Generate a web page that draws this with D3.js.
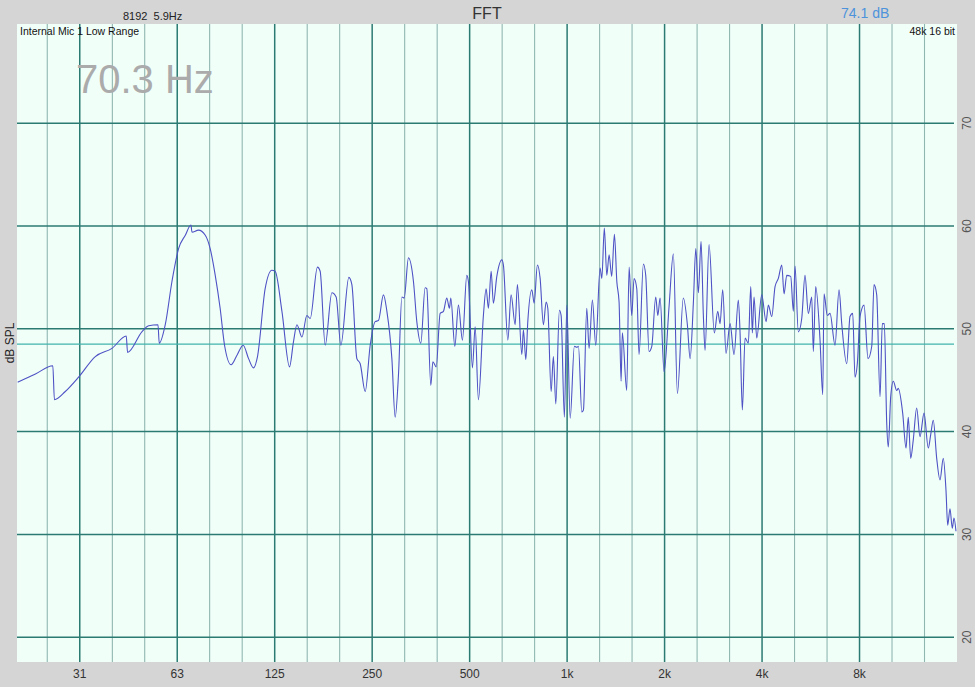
<!DOCTYPE html>
<html><head><meta charset="utf-8">
<script src="https://cdn.jsdelivr.net/npm/d3@7"></script>
<style>
html,body{margin:0;padding:0;background:#d5d5d5;}
svg{display:block;font-family:"Liberation Sans",Arial,Helvetica,sans-serif;}
</style></head>
<body>
<svg id="c" width="975" height="687"></svg>
<script>
// ---- data ----
const freqs = [20.1, 22.8, 25.8, 26.1, 28.2, 31.0, 34.9, 39.3, 43.5, 43.9, 48.6,
 51.0, 54.5, 55.0, 57.4, 60.2, 63.1, 66.2, 68.9, 69.4, 72.7,
 76.3, 79.0, 81.9, 84.8, 87.5, 91.7, 95.5, 99.9, 103.8, 107.5,
 110.6, 116.8, 122.5, 125.4, 131.6, 138.9, 142.8, 146.4, 151.7, 157.1,
 160.9, 169.4, 172.7, 179.0, 187.7, 193.5, 200.1, 211.8, 216.4, 224.2,
 229.6, 237.9, 246.5, 255.4, 261.4, 270.9, 277.6, 287.6, 294.4, 301.4,
 308.8, 313.9, 323.6, 335.3, 343.4, 353.3, 364.3, 368.7, 379.3, 384.9,
 394.2, 405.4, 415.0, 425.0, 433.1, 437.3, 450.0, 461.7, 475.0, 489.9,
 495.7, 510.0, 520.0, 532.2, 551.4, 562.2, 571.4, 582.6, 592.0, 606.6,
 628.6, 635.7, 655.9, 671.5, 690.9, 702.3, 724.6, 732.8, 745.5, 756.1,
 778.0, 791.1, 809.6, 825.4, 844.8, 861.3, 871.7, 892.5, 907.0, 922.8,
 946.7, 958.2, 980.9, 998, 1022, 1053, 1071, 1084, 1110, 1123,
 1150, 1169, 1197, 1226, 1264, 1280, 1303, 1326, 1348, 1373,
 1400, 1424, 1447, 1468, 1481, 1528, 1554, 1583, 1610, 1641,
 1668, 1720, 1749, 1791, 1826, 1878, 1906, 1937, 1993, 2065,
 2129, 2191, 2285, 2352, 2398, 2454, 2497, 2543, 2592, 2635,
 2667, 2744, 2849, 2919, 2967, 3024, 3096, 3186, 3278, 3379,
 3421, 3477, 3545, 3628, 3691, 3733, 3778, 3852, 3991, 4116,
 4183, 4286, 4387, 4491, 4602, 4677, 4768, 4904, 4997, 5057,
 5177, 5304, 5429, 5559, 5695, 5760, 5858, 6041, 6158, 6215,
 6363, 6486, 6721, 6915, 7049, 7304, 7476, 7622, 7747, 7875,
 8029, 8261, 8498, 8726, 8868, 9040, 9256, 9407, 9543, 9707,
 9816, 9986, 10171, 10420, 10538, 10874, 11134, 11315, 11512, 11724,
 12012, 12298, 12658, 13043, 13272, 13516, 13849, 14178, 14512, 14795,
 14974, 15222, 15473, 15660, 15885];

const splDb = [44.8, 45.6, 46.4, 43.1, 43.9, 45.3, 47.3, 48.1, 49.3, 47.7, 49.7,
 50.3, 50.4, 48.6, 50.4, 54.6, 57.8, 59.1, 60.1, 59.4, 59.6,
 59.1, 57.8, 55.2, 52.0, 48.4, 46.5, 47.4, 48.4, 47.1, 46.2,
 47.3, 53.9, 55.7, 55.6, 51.7, 46.3, 48.7, 50.4, 49.2, 51.3,
 51.0, 56.0, 55.6, 48.4, 53.5, 53.1, 48.4, 55.0, 54.3, 47.1,
 46.6, 43.9, 48.4, 50.7, 50.8, 53.3, 51.7, 47.1, 41.4, 45.5,
 53.1, 53.0, 56.9, 54.6, 50.7, 48.6, 54.0, 53.9, 44.5, 46.8,
 46.3, 51.5, 51.7, 53.0, 52.0, 53.0, 48.3, 52.3, 48.9, 55.2,
 54.6, 46.2, 50.2, 43.1, 51.3, 53.9, 52.0, 55.6, 52.5, 55.1,
 56.7, 56.2, 48.9, 53.3, 50.4, 54.3, 47.5, 49.9, 47.0, 50.7,
 53.8, 52.5, 56.2, 54.9, 50.4, 52.6, 52.0, 43.9, 47.3, 42.7,
 51.8, 51.3, 41.4, 52.3, 41.3, 48.3, 48.2, 48.3, 41.9, 42.1,
 52.0, 48.1, 52.8, 48.4, 55.9, 54.9, 59.8, 55.2, 57.2, 55.1,
 59.2, 54.6, 52.6, 44.9, 49.6, 44.0, 56.0, 51.3, 54.9, 53.9,
 47.5, 56.3, 55.2, 47.8, 48.3, 53.1, 51.3, 53.0, 45.8, 52.2,
 57.3, 43.7, 53.0, 50.4, 47.1, 52.5, 57.8, 53.5, 58.5, 51.3,
 47.9, 58.2, 49.6, 51.7, 50.5, 53.8, 47.6, 50.5, 47.5, 52.8,
 49.6, 42.1, 49.1, 48.6, 54.1, 49.6, 53.1, 49.1, 53.3, 50.7,
 52.3, 51.2, 54.1, 54.9, 56.2, 53.4, 55.2, 55.1, 51.7, 56.1,
 49.7, 51.0, 55.2, 51.5, 53.1, 47.8, 54.1, 48.9, 43.6, 53.4,
 51.3, 51.5, 48.4, 53.8, 50.5, 46.6, 51.2, 51.5, 45.3, 46.6,
 51.2, 52.3, 47.1, 48.3, 54.3, 53.3, 43.4, 50.5, 50.5, 40.8,
 38.5, 43.4, 44.9, 44.0, 44.2, 41.8, 38.4, 41.4, 37.4, 39.2,
 42.3, 39.5, 41.8, 38.4, 39.7, 41.1, 37.4, 35.3, 37.4, 34.3,
 30.9, 32.5, 30.6, 31.6, 30.3];

const octaveFreqs = [31.25, 62.5, 125, 250, 500, 1000, 2000, 4000, 8000];
const octaveLabels = ["31", "63", "125", "250", "500", "1k", "2k", "4k", "8k"];
const thirdOctaveFreqs = [24.8, 39.4, 49.6, 78.7, 99.2, 157.5, 198.4, 315, 396.9,
  630, 793.7, 1260, 1587, 2520, 3175, 5040, 6350, 10079, 12699];
const dbTicks = [20, 30, 40, 50, 60, 70];
const cursorDb = 48.5;
const titleText = "FFT";
const fftInfo = "8192  5.9Hz";
const levelText = "74.1 dB";
const inputText = "Internal Mic 1 Low Range";
const formatText = "48k 16 bit";
const cursorFreqText = "70.3 Hz";
const yTitle = "dB SPL";

// ---- layout ----
const W = 975, H = 687;
const plot = {left: 17, right: 957, top: 24, bottom: 662};
const svg = d3.select("#c");

const x = d3.scaleLog().domain([20, 16000]).range([plot.left, plot.right]);
const y = d3.scaleLinear().domain([20, 70]).range([637.2, 123.2]);

svg.append("rect").attr("width", W).attr("height", H).attr("fill", "#d5d5d5");
svg.append("rect").attr("x", plot.left).attr("y", plot.top)
  .attr("width", plot.right - plot.left).attr("height", plot.bottom - plot.top)
  .attr("fill", "#f1fff9");

svg.append("clipPath").attr("id", "clip").append("rect")
  .attr("x", plot.left).attr("y", plot.top)
  .attr("width", plot.right - plot.left).attr("height", plot.bottom - plot.top);

const grid = svg.append("g");
// third-octave verticals
grid.selectAll("line.t").data(thirdOctaveFreqs).join("line")
  .attr("x1", d => x(d)).attr("x2", d => x(d))
  .attr("y1", plot.top).attr("y2", plot.bottom)
  .attr("stroke", "#8fb7b0").attr("stroke-width", 1.1);
// octave verticals
grid.selectAll("line.o").data(octaveFreqs).join("line")
  .attr("x1", d => x(d)).attr("x2", d => x(d))
  .attr("y1", plot.top).attr("y2", plot.bottom)
  .attr("stroke", "#2b7b73").attr("stroke-width", 1.5);
// horizontals
grid.selectAll("line.h").data(dbTicks).join("line")
  .attr("x1", plot.left).attr("x2", plot.right - 3)
  .attr("y1", d => y(d)).attr("y2", d => y(d))
  .attr("stroke", "#2b7b73").attr("stroke-width", 1.5);
// cursor level line
grid.append("line")
  .attr("x1", plot.left).attr("x2", plot.right - 3)
  .attr("y1", y(cursorDb)).attr("y2", y(cursorDb))
  .attr("stroke", "#41b3ab").attr("stroke-width", 1.2);

// curve
const pts = freqs.map((f, i) => [f, splDb[i]]);
svg.append("path").datum(pts)
  .attr("clip-path", "url(#clip)")
  .attr("fill", "none").attr("stroke", "#4e52c4").attr("stroke-width", 1.1)
  .attr("stroke-linejoin", "round")
  .attr("d", d3.line().curve(d3.curveMonotoneX).x(d => x(d[0])).y(d => y(d[1])));

// bottom axis labels
svg.append("g").selectAll("text").data(octaveFreqs).join("text")
  .attr("x", (d) => x(d)).attr("y", 678)
  .attr("text-anchor", "middle").attr("font-size", 12).attr("fill", "#333")
  .text((d, i) => octaveLabels[i]);

// right axis labels
svg.append("g").selectAll("text").data(dbTicks).join("text")
  .attr("transform", d => `translate(966.5,${y(d)}) rotate(-90)`)
  .attr("text-anchor", "middle").attr("dominant-baseline", "central")
  .attr("font-size", 12).attr("fill", "#555")
  .text(d => d);

// y title
svg.append("text")
  .attr("transform", `translate(9.5,343) rotate(-90)`)
  .attr("text-anchor", "middle").attr("dominant-baseline", "central")
  .attr("font-size", 12).attr("fill", "#222").text(yTitle);

// header texts
svg.append("text").attr("x", 487).attr("y", 19).attr("text-anchor", "middle")
  .attr("font-size", 16).attr("fill", "#333").text(titleText);
svg.append("text").attr("x", 123).attr("y", 20).attr("font-size", 11)
  .attr("fill", "#222").attr("xml:space", "preserve").style("white-space", "pre").text(fftInfo);
svg.append("text").attr("x", 841).attr("y", 18).attr("font-size", 14)
  .attr("fill", "#4d93dc").text(levelText);
svg.append("text").attr("x", 20).attr("y", 34.5).attr("font-size", 10.5)
  .attr("fill", "#111").text(inputText);
svg.append("text").attr("x", 955).attr("y", 34.5).attr("text-anchor", "end")
  .attr("font-size", 10.5).attr("fill", "#111").text(formatText);
svg.append("text").attr("x", 76).attr("y", 92.5).attr("font-size", 40)
  .attr("fill", "#ababab").text(cursorFreqText);
</script>
</body></html>
